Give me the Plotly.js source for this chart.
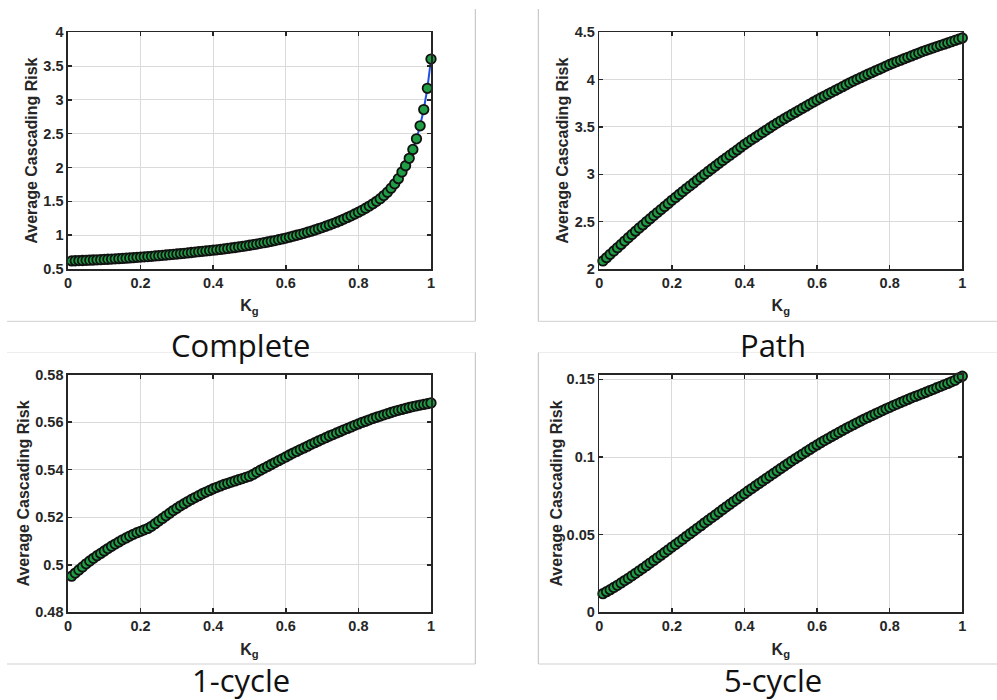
<!DOCTYPE html>
<html>
<head>
<meta charset="utf-8">
<script src="https://cdn.plot.ly/plotly-3.0.1.min.js"></script>
<style>html,body{margin:0;padding:0;background:#fff;}#chart{width:997px;height:700px;}</style>
</head>
<body>
<div id="chart"></div>
<script>
// ---- data ----
const kg = [
0.01,0.02,0.03,0.04,0.05,0.06,0.07,0.08,0.09,0.10,
0.11,0.12,0.13,0.14,0.15,0.16,0.17,0.18,0.19,0.20,
0.21,0.22,0.23,0.24,0.25,0.26,0.27,0.28,0.29,0.30,
0.31,0.32,0.33,0.34,0.35,0.36,0.37,0.38,0.39,0.40,
0.41,0.42,0.43,0.44,0.45,0.46,0.47,0.48,0.49,0.50,
0.51,0.52,0.53,0.54,0.55,0.56,0.57,0.58,0.59,0.60,
0.61,0.62,0.63,0.64,0.65,0.66,0.67,0.68,0.69,0.70,
0.71,0.72,0.73,0.74,0.75,0.76,0.77,0.78,0.79,0.80,
0.81,0.82,0.83,0.84,0.85,0.86,0.87,0.88,0.89,0.90,
0.91,0.92,0.93,0.94,0.95,0.96,0.97,0.98,0.99,1.00];

const completeRisk = [
0.620,0.622,0.624,0.626,0.628,0.630,0.633,0.636,0.638,0.641,
0.644,0.647,0.650,0.653,0.656,0.660,0.664,0.668,0.672,0.676,
0.680,0.684,0.688,0.693,0.697,0.702,0.707,0.712,0.717,0.722,
0.727,0.732,0.738,0.744,0.750,0.756,0.761,0.767,0.772,0.778,
0.784,0.790,0.797,0.804,0.811,0.818,0.826,0.834,0.842,0.851,
0.860,0.869,0.879,0.889,0.899,0.910,0.921,0.933,0.945,0.958,
0.971,0.985,0.999,1.013,1.028,1.044,1.060,1.077,1.095,1.113,
1.132,1.152,1.172,1.193,1.215,1.238,1.262,1.287,1.313,1.340,
1.368,1.398,1.430,1.464,1.500,1.540,1.585,1.635,1.695,1.760,
1.836,1.934,2.027,2.136,2.268,2.425,2.617,2.858,3.172,3.604];

const pathRisk = [
2.085,2.120,2.155,2.190,2.225,2.260,2.295,2.330,2.365,2.400,
2.433,2.466,2.499,2.532,2.564,2.596,2.628,2.660,2.692,2.725,
2.756,2.787,2.818,2.849,2.879,2.909,2.939,2.969,3.000,3.030,
3.059,3.088,3.117,3.146,3.174,3.202,3.230,3.258,3.287,3.315,
3.341,3.367,3.392,3.417,3.442,3.467,3.492,3.517,3.541,3.565,
3.588,3.610,3.632,3.654,3.676,3.698,3.720,3.742,3.764,3.785,
3.806,3.826,3.846,3.866,3.886,3.906,3.926,3.946,3.966,3.985,
4.003,4.021,4.039,4.057,4.074,4.091,4.108,4.125,4.143,4.160,
4.176,4.191,4.206,4.221,4.236,4.251,4.266,4.281,4.296,4.310,
4.323,4.336,4.349,4.362,4.375,4.388,4.401,4.414,4.427,4.440];

const oneCycleRisk = [
0.4952,0.4965,0.4978,0.4991,0.5004,0.5016,0.5027,0.5038,0.5048,0.5058,
0.5068,0.5078,0.5087,0.5096,0.5105,0.5113,0.5121,0.5128,0.5135,0.5141,
0.5147,0.5153,0.5162,0.5173,0.5184,0.5195,0.5206,0.5217,0.5228,0.5238,
0.5248,0.5257,0.5266,0.5275,0.5283,0.5291,0.5299,0.5306,0.5313,0.5320,
0.5326,0.5332,0.5338,0.5343,0.5348,0.5353,0.5358,0.5363,0.5368,0.5373,
0.5380,0.5389,0.5398,0.5406,0.5414,0.5422,0.5430,0.5438,0.5446,0.5454,
0.5462,0.5470,0.5477,0.5485,0.5492,0.5499,0.5507,0.5514,0.5521,0.5528,
0.5535,0.5542,0.5548,0.5555,0.5561,0.5568,0.5574,0.5580,0.5587,0.5593,
0.5599,0.5604,0.5610,0.5616,0.5621,0.5626,0.5631,0.5636,0.5641,0.5646,
0.5650,0.5654,0.5658,0.5662,0.5666,0.5669,0.5672,0.5675,0.5678,0.5681];

const fiveCycleRisk = [
0.0120,0.0133,0.0146,0.0160,0.0174,0.0189,0.0204,0.0219,0.0235,0.0251,
0.0267,0.0283,0.0300,0.0317,0.0334,0.0351,0.0368,0.0385,0.0402,0.0420,
0.0437,0.0454,0.0471,0.0489,0.0506,0.0523,0.0541,0.0558,0.0576,0.0593,
0.0610,0.0627,0.0645,0.0662,0.0679,0.0696,0.0713,0.0730,0.0747,0.0764,
0.0781,0.0797,0.0814,0.0830,0.0846,0.0862,0.0878,0.0894,0.0910,0.0926,
0.0942,0.0958,0.0974,0.0989,0.1004,0.1019,0.1034,0.1049,0.1064,0.1078,
0.1092,0.1106,0.1119,0.1132,0.1145,0.1158,0.1171,0.1184,0.1196,0.1208,
0.1220,0.1232,0.1244,0.1255,0.1266,0.1277,0.1288,0.1299,0.1310,0.1320,
0.1331,0.1341,0.1351,0.1361,0.1371,0.1381,0.1390,0.1399,0.1408,0.1417,
0.1427,0.1436,0.1446,0.1455,0.1465,0.1474,0.1484,0.1494,0.1510,0.1520];

const panelNames = ["Complete", "Path", "1-cycle", "5-cycle"];
const yTitle = "Average Cascading Risk";
const xTitle = "K<sub>g</sub>";

// ---- layout helpers ----
const W = 997, H = 700;
const px = v => v / W;
const py = v => 1 - v / H;

const series = [completeRisk, pathRisk, oneCycleRisk, fiveCycleRisk];
const yRanges = [[0.5, 4], [2, 4.5], [0.48, 0.58], [0, 0.153]];
const yDticks = [0.5, 0.5, 0.02, 0.05];
const boxes = [
  {x0: 68, x1: 431, y0: 32.3, y1: 269},
  {x0: 599.3, x1: 962.3, y0: 32.3, y1: 269},
  {x0: 68, x1: 431, y0: 374.7, y1: 612.3},
  {x0: 599.3, x1: 962.3, y0: 374.7, y1: 612.3}
];

const FAM = 'Liberation Sans, Arial, Helvetica, sans-serif';
const tickFont = {family: FAM, size: 14.5, color: '#262626', weight: 700};
const titleFont = {family: FAM, size: 16, color: '#262626', weight: 700};

const traces = series.map((ys, i) => ({
  x: kg, y: ys,
  xaxis: 'x' + (i === 0 ? '' : i + 1),
  yaxis: 'y' + (i === 0 ? '' : i + 1),
  type: 'scatter', mode: 'lines+markers',
  cliponaxis: false,
  line: {color: '#1f4fe6', width: 2},
  marker: {size: 9.5, color: '#1f9e45', line: {color: '#111111', width: 1.8}},
  hoverinfo: 'skip'
}));

const layout = {
  width: W, height: H,
  margin: {l: 0, r: 0, t: 0, b: 0},
  paper_bgcolor: '#ffffff', plot_bgcolor: '#ffffff',
  showlegend: false,
  font: {family: FAM, color: '#262626'},
  annotations: [], shapes: []
};

const yStandoff = [2, 2, 1, 0];
boxes.forEach((b, i) => {
  const s = i === 0 ? '' : String(i + 1);
  const common = {
    showline: true, linecolor: '#262626', linewidth: 1.6, mirror: 'allticks',
    ticks: 'inside', ticklen: 4, tickwidth: 1.5, tickcolor: '#262626',
    showgrid: true, gridcolor: '#dadada', gridwidth: 1, zeroline: false,
    tickfont: tickFont, tickprefix: '<b>', ticksuffix: '</b>', fixedrange: true
  };
  layout['xaxis' + s] = Object.assign({}, common, {
    domain: [px(b.x0), px(b.x1)], range: [0, 1], dtick: 0.2, tick0: 0,
    anchor: 'y' + s,
    title: {text: '<b>' + xTitle + '</b>', font: titleFont, standoff: 10}
  });
  layout['yaxis' + s] = Object.assign({}, common, {
    domain: [py(b.y1), py(b.y0)], range: yRanges[i], dtick: yDticks[i], tick0: 0,
    anchor: 'x' + s,
    title: {text: '<b>' + yTitle + '</b>', font: titleFont, standoff: yStandoff[i]}
  });
});

// panel captions
const capPos = [[241, 345], [773, 345], [241, 680], [773, 680]];
panelNames.forEach((t, i) => {
  layout.annotations.push({
    text: t, xref: 'paper', yref: 'paper', x: px(capPos[i][0]), y: py(capPos[i][1]),
    xanchor: 'center', yanchor: 'middle', showarrow: false,
    font: {family: 'Open Sans, Noto Sans, sans-serif', size: 31, color: '#111111'}
  });
});

// light separator lines (figure frame pieces)
function seg(x0, y0, x1, y1, c) {
  layout.shapes.push({type: 'line', xref: 'paper', yref: 'paper',
    x0: px(x0), y0: py(y0), x1: px(x1), y1: py(y1), line: {color: c, width: 1}});
}
seg(475.3, 9, 475.3, 321.3, '#bdbdbd');
seg(538.3, 9, 538.3, 321.3, '#bdbdbd');
seg(7, 321.3, 475.3, 321.3, '#cfcfcf');
seg(538.3, 321.3, 997, 321.3, '#cfcfcf');
seg(7, 352.5, 475.3, 352.5, '#ededed');
seg(538.3, 352.5, 997, 352.5, '#ededed');
seg(475.3, 352.5, 475.3, 664, '#bdbdbd');
seg(538.3, 352.5, 538.3, 664, '#bdbdbd');
seg(7, 664, 475.3, 664, '#cfcfcf');
seg(538.3, 664, 997, 664, '#cfcfcf');

Plotly.newPlot('chart', traces, layout, {displayModeBar: false, staticPlot: true});
</script>
</body>
</html>
